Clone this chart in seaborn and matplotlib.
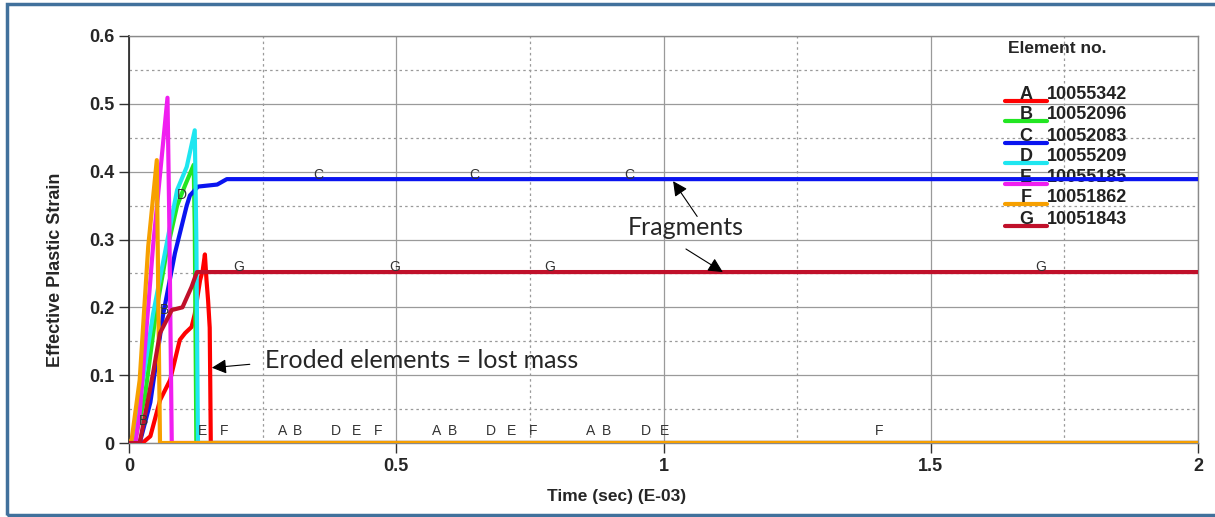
import pandas as pd
import numpy as np
import matplotlib.pyplot as plt
import seaborn as sns
from matplotlib.patches import Rectangle
from matplotlib.ticker import MultipleLocator

# Curve data (time in E-03 sec, effective plastic strain)
a_time = [0, 0.025, 0.04, 0.058, 0.077, 0.095, 0.105, 0.117, 0.123, 0.133, 0.138, 0.142, 0.145, 0.148, 0.151, 0.152, 0.153, 2.0]
a_strain = [0, 0, 0.01, 0.063, 0.093, 0.152, 0.162, 0.171, 0.19, 0.24, 0.255, 0.278, 0.24, 0.21, 0.17, 0.09, 0, 0]
b_time = [0, 0.01, 0.03, 0.05, 0.07, 0.09, 0.105, 0.121, 0.123, 0.126, 2.0]
b_strain = [0, 0, 0.07, 0.19, 0.28, 0.35, 0.38, 0.41, 0.32, 0, 0]
c_time = [0, 0.02, 0.04, 0.064, 0.086, 0.108, 0.114, 0.12, 0.129, 0.165, 0.183, 2.0]
c_strain = [0, 0, 0.06, 0.19, 0.28, 0.35, 0.365, 0.37, 0.378, 0.381, 0.389, 0.389]
d_time = [0, 0.008, 0.045, 0.09, 0.108, 0.123, 0.126, 0.129, 2.0]
d_strain = [0, 0, 0.19, 0.373, 0.407, 0.461, 0.3, 0, 0]
e_time = [0, 0.012, 0.02, 0.045, 0.072, 0.075, 0.08, 2.0]
e_strain = [0, 0, 0.044, 0.29, 0.509, 0.35, 0, 0]
f_time = [0, 0.005, 0.02, 0.036, 0.052, 0.055, 0.058, 2.0]
f_strain = [0, 0.005, 0.093, 0.29, 0.417, 0.2, 0, 0]
g_time = [0, 0.02, 0.045, 0.058, 0.08, 0.10, 0.117, 0.127, 2.0]
g_strain = [0, 0, 0.103, 0.162, 0.196, 0.2, 0.23, 0.252, 0.252]

symbols = ["A", "B", "C", "D", "E", "F", "G"]
element_ids = ["10055342", "10052096", "10052083", "10055209", "10055185", "10051862", "10051843"]
colours = ["#ff0000", "#22e622", "#0a14f0", "#1ee6f0", "#f01ef0", "#f7a000", "#c0102a"]

# curve symbol marks along the lines
sym_letters = ["C", "C", "C", "G", "G", "G", "G", "D", "B", "B",
               "E", "F", "A", "B", "D", "E", "F", "A", "B", "D", "E", "F", "A", "B", "D", "E", "F"]
sym_time = [0.355, 0.645, 0.935, 0.206, 0.497, 0.787, 1.706, 0.098, 0.067, 0.028,
            0.138, 0.178, 0.288, 0.316, 0.387, 0.426, 0.466, 0.576, 0.606, 0.677, 0.716, 0.756, 0.864, 0.894, 0.967, 1.001, 1.403]
sym_strain = [0.395, 0.395, 0.395, 0.26, 0.26, 0.26, 0.26, 0.365, 0.196, 0.022,
              0.007, 0.007, 0.007, 0.007, 0.007, 0.007, 0.007, 0.007, 0.007, 0.007, 0.007, 0.007, 0.007, 0.007, 0.007, 0.007, 0.007]

x_ticks = [0, 0.5, 1, 1.5, 2]
x_labels = ["0", "0.5", "1", "1.5", "2"]
y_ticks = [0, 0.1, 0.2, 0.3, 0.4, 0.5, 0.6]
y_labels = ["0", "0.1", "0.2", "0.3", "0.4", "0.5", "0.6"]

series = [(a_time, a_strain), (b_time, b_strain), (c_time, c_strain), (d_time, d_strain),
          (e_time, e_strain), (f_time, f_strain), (g_time, g_strain)]
frames = []
for s, (t, v) in zip(symbols, series):
    frames.append(pd.DataFrame({"time": t, "strain": v, "element": s}))
df = pd.concat(frames, ignore_index=True)

sns.set_style("white")
plt.rcParams["font.family"] = ["Liberation Sans", "DejaVu Sans"]

fig = plt.figure(figsize=(12.15, 5.17), dpi=100)
ax = fig.add_axes([129 / 1215, 1 - 443 / 517, 1069 / 1215, 407 / 517])

sns.lineplot(data=df, x="time", y="strain", hue="element", palette=dict(zip(symbols, colours)),
             sort=False, estimator=None, units="element", lw=3, legend=False, ax=ax, zorder=3)

ax.set_xlim(0, 2)
ax.set_ylim(0, 0.6)
ax.set_xticks(x_ticks)
ax.set_xticklabels(x_labels)
ax.set_yticks(y_ticks)
ax.set_yticklabels(y_labels)
ax.xaxis.set_minor_locator(MultipleLocator(0.25))
ax.yaxis.set_minor_locator(MultipleLocator(0.05))
ax.grid(which="major", color="#9a9a9a", lw=0.9, ls="-", zorder=0)
ax.grid(which="minor", color="#9a9a9a", lw=0.9, ls=(0, (2, 2.5)), zorder=0)
ax.set_axisbelow(True)
ax.tick_params(which="major", direction="out", length=7, width=1, color="#333333",
               left=True, bottom=True, labelsize=13)
ax.tick_params(which="minor", length=0)
for lab in ax.get_xticklabels() + ax.get_yticklabels():
    lab.set_fontweight("bold")
for side in ["top", "right", "bottom"]:
    ax.spines[side].set_color("#8a8a8a")
    ax.spines[side].set_linewidth(1)
ax.spines["left"].set_color("#222222")
ax.spines["left"].set_linewidth(1.2)

ax.set_xlabel("Time (sec) (E-03)", fontsize=12.5, fontweight="bold")
ax.set_ylabel("Effective Plastic Strain", fontsize=13, fontweight="bold")
ax.xaxis.set_label_coords(0.456, -0.113)
ax.yaxis.set_label_coords(-0.061, 0.425)

# symbols on curves
for s, t, v in zip(sym_letters, sym_time, sym_strain):
    ax.text(t, v, s, fontsize=10, color="#333333", ha="center",
            va="bottom" if v < 0.05 else "center", zorder=4)

# legend drawn in the plot area, below the curves
ax.text(0.822, 0.970, "Element no.", transform=ax.transAxes, fontsize=12.5,
        fontweight="bold", va="center", ha="left", zorder=2)
row_y = [0.840, 0.791, 0.737, 0.688, 0.636, 0.587, 0.533]
for s, eid, c, ry in zip(symbols, element_ids, colours, row_y):
    ax.plot([0.8195, 0.8588], [ry, ry], transform=ax.transAxes, color=c, lw=3, zorder=2,
            solid_capstyle="round")
    ax.text(0.839, ry + 0.016, s, transform=ax.transAxes, fontsize=13, ha="center",
            va="center", fontweight="bold", color="#222222", zorder=2)
    ax.text(0.859, ry + 0.016, eid, transform=ax.transAxes, fontsize=13, ha="left",
            va="center", fontweight="bold", color="#222222", zorder=2)

# annotations
arrow = dict(arrowstyle="-|>", mutation_scale=22, lw=0.8, color="black", shrinkA=0, shrinkB=0)
ax.text(1.042, 0.317, "Fragments", fontsize=18, family="Lato", ha="center", va="center", zorder=5)
ax.annotate("", xy=(1.018, 0.386), xytext=(1.063, 0.334), arrowprops=arrow, zorder=5)
ax.annotate("", xy=(1.111, 0.252), xytext=(1.042, 0.286), arrowprops=arrow, zorder=5)
ax.text(0.254, 0.121, "Eroded elements = lost mass", fontsize=18, family="Lato",
        ha="left", va="center", zorder=5)
ax.annotate("", xy=(0.155, 0.111), xytext=(0.226, 0.116), arrowprops=arrow, zorder=5)

# outer blue frame
fig.patches.append(Rectangle((7 / 1215, 2 / 517), 1.05, 1 - 5.5 / 517,
                             transform=fig.transFigure, fill=False, edgecolor="#41719c",
                             lw=2.5, figure=fig))

fig.savefig("out.png", dpi=100)
plt.close()
